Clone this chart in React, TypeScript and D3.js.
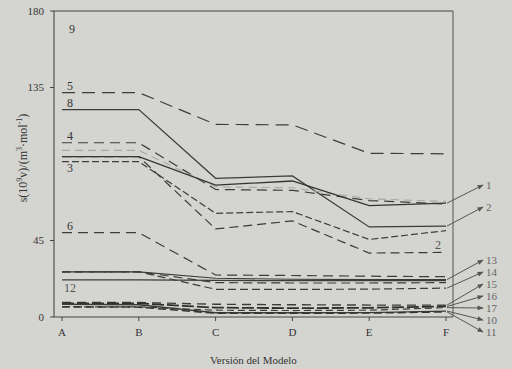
import React from "react";
import * as d3 from "d3";

// Model versions along the horizontal axis
const categories = ["A", "B", "C", "D", "E", "F"];

// s(10^9 v) per model version, one array per compound
const s5 = [132, 132, 113.3, 113, 96.3, 96];
const s8 = [122, 122, 81.6, 83, 53, 53.5];
const s4 = [102.5, 102.5, 75, 74.5, 68.5, 66.5];
const sGrey = [98, 98, 76.5, 76, 69.5, 68];
const s1 = [94.3, 94.3, 77.6, 80, 65.5, 67];
const s2 = [94.3, 94.3, 51.8, 56.5, 37.6, 38];
const s3 = [91.4, 91.4, 61, 62, 45.6, 50.8];
const s6 = [49.6, 49.6, 24.7, 24.4, 24, 23.7];
const s13 = [26.6, 26.6, 22.8, 22.2, 22, 22];
const s14 = [26.6, 26.6, 16.3, 16.2, 16.4, 17];
const s14b = [26.6, 26.6, 20.2, 20, 20, 20.2];
const s12 = [21.8, 21.8, 21.5, 21.4, 21.4, 21.4];
const s15 = [8.5, 8.5, 7.5, 7.2, 7, 7];
const s16 = [8, 8, 5.5, 5.2, 5.4, 6.2];
const s17 = [6, 6, 4, 3.8, 4, 5.5];
const s10 = [7.5, 7.2, 2.5, 2.5, 2.6, 3.5];
const s11 = [6, 5.8, 2.2, 2.2, 2.3, 3];

const yTicks = [0, 45, 135, 180];

// Series with their drawing style
const series = [
  { id: "5", values: s5, dash: "13,7", color: "#3c3c3c", width: 1.2 },
  { id: "8", values: s8, dash: "", color: "#3c3c3c", width: 1.2 },
  { id: "4", values: s4, dash: "10,6", color: "#3c3c3c", width: 1.2 },
  { id: "g", values: sGrey, dash: "8,5", color: "#a8a8a4", width: 1.1 },
  { id: "1", values: s1, dash: "", color: "#333", width: 1.3 },
  { id: "2", values: s2, dash: "9,5", color: "#3a3a3a", width: 1.2 },
  { id: "3", values: s3, dash: "7,3", color: "#3c3c3c", width: 1.2 },
  { id: "6", values: s6, dash: "10,6", color: "#3c3c3c", width: 1.2 },
  { id: "13", values: s13, dash: "", color: "#3c3c3c", width: 1.2 },
  { id: "14", values: s14, dash: "8,4", color: "#3c3c3c", width: 1.2 },
  { id: "14b", values: s14b, dash: "9,5", color: "#3c3c3c", width: 1.2 },
  { id: "12", values: s12, dash: "", color: "#3c3c3c", width: 1.2 },
  { id: "15", values: s15, dash: "9,6", color: "#3c3c3c", width: 1.4 },
  { id: "16", values: s16, dash: "12,3", color: "#2e2e2e", width: 1.8 },
  { id: "17", values: s17, dash: "7,4", color: "#3c3c3c", width: 1.2 },
  { id: "10", values: s10, dash: "", color: "#3c3c3c", width: 1.3 },
  { id: "11", values: s11, dash: "8,4", color: "#333", width: 1.5 },
];

// Labels written next to the start of a line
const startLabels = [
  { text: "5", series: s5 },
  { text: "8", series: s8 },
  { text: "4", series: s4 },
  { text: "6", series: s6 },
];

// Labels pointed at the line ends on the right
const endLabels = [
  { text: "1", series: s1, slot: 0 },
  { text: "2", series: s8, slot: 1 },
  { text: "13", series: s13, slot: 2 },
  { text: "14", series: s14, slot: 3 },
  { text: "15", series: s15, slot: 4 },
  { text: "16", series: s16, slot: 5 },
  { text: "17", series: s17, slot: 6 },
  { text: "10", series: s10, slot: 7 },
  { text: "11", series: s11, slot: 8 },
];
const endSlotY = [185, 207, 260, 272, 284, 296, 308, 320, 332];

export default function App() {
  const W = 512;
  const H = 369;
  const left = 54;
  const right = 453;
  const top = 11;
  const bottom = 317;

  const x = d3.scalePoint<string>().domain(categories).range([62, 446]);
  const y = d3.scaleLinear().domain([0, 180]).range([bottom, top]);

  const line = d3
    .line<number>()
    .x((_, i) => x(categories[i]) as number)
    .y((d) => y(d));

  const font = "'Liberation Serif', 'Times New Roman', serif";
  const textColor = "#353535";
  const xA = x("A") as number;
  const xF = x("F") as number;

  return (
    <svg
      width={W}
      height={H}
      style={{ position: "fixed", left: 0, top: 0, background: "#d4d4d0" }}
      fontFamily={font}
    >
      <rect x={0} y={0} width={W} height={H} fill="#d4d4d0" />
      <defs>
        <marker
          id="arrowHead"
          viewBox="0 0 10 10"
          refX="9"
          refY="5"
          markerWidth="7"
          markerHeight="6"
          orient="auto"
        >
          <path d="M0,1 L10,5 L0,9 Z" fill="#555" />
        </marker>
      </defs>

      {/* frame */}
      <line x1={left} x2={right} y1={top} y2={top} stroke="#444" strokeWidth={1} />
      <line x1={right} x2={right} y1={top} y2={bottom} stroke="#555" strokeWidth={1} />
      <line x1={left} x2={left} y1={top} y2={bottom} stroke="#444" strokeWidth={1.1} />
      <line x1={left} x2={right} y1={bottom} y2={bottom} stroke="#444" strokeWidth={1.1} />

      {/* y axis */}
      {yTicks.map((t) => (
        <g key={t}>
          <line x1={left - 4} x2={left} y1={y(t)} y2={y(t)} stroke="#444" />
          <text
            x={left - 10}
            y={y(t)}
            dy="0.35em"
            textAnchor="end"
            fontSize={11}
            fill={textColor}
          >
            {t}
          </text>
        </g>
      ))}

      {/* x axis */}
      {categories.map((c) => (
        <g key={c}>
          <line
            x1={x(c) as number}
            x2={x(c) as number}
            y1={bottom}
            y2={bottom + 4}
            stroke="#444"
          />
          <text
            x={x(c) as number}
            y={bottom + 19}
            textAnchor="middle"
            fontSize={11}
            fill={textColor}
          >
            {c}
          </text>
        </g>
      ))}

      <text
        x={(left + right) / 2}
        y={364}
        textAnchor="middle"
        fontSize={11}
        fill={textColor}
      >
        Versión del Modelo
      </text>

      <text
        transform={`translate(27, 158) rotate(-90)`}
        textAnchor="middle"
        fontSize={12}
        fill={textColor}
      >
        s(10
        <tspan dy={-5} fontSize={8}>9</tspan>
        <tspan dy={5}>v)/(m</tspan>
        <tspan dy={-5} fontSize={8}>3</tspan>
        <tspan dy={5}>·mol</tspan>
        <tspan dy={-5} fontSize={8}>-1</tspan>
        <tspan dy={5}>)</tspan>
      </text>

      {/* series */}
      {series.map((s) => (
        <path
          key={s.id}
          d={line(s.values) || ""}
          fill="none"
          stroke={s.color}
          strokeWidth={s.width}
          strokeDasharray={s.dash || undefined}
        />
      ))}

      {/* labels at the start of lines */}
      {startLabels.map((l) => (
        <text
          key={l.text}
          x={xA + 8}
          y={y(l.series[0]) - 3}
          textAnchor="middle"
          fontSize={12}
          fill={textColor}
        >
          {l.text}
        </text>
      ))}
      <text x={xA + 8} y={y(s3[0]) + 10} textAnchor="middle" fontSize={12} fill={textColor}>
        3
      </text>
      <text x={xA + 8} y={y(s12[0]) + 12} textAnchor="middle" fontSize={12} fill="#555">
        12
      </text>
      <text x={xA + 10} y={y(167)} textAnchor="middle" fontSize={12} fill={textColor}>
        9
      </text>
      <text x={xF - 8} y={y(s2[5]) - 3} textAnchor="middle" fontSize={12} fill="#555">
        2
      </text>

      {/* arrows to the right-hand labels */}
      {endLabels.map((l) => (
        <g key={l.text}>
          <line
            x1={xF + 1}
            y1={y(l.series[5])}
            x2={483}
            y2={endSlotY[l.slot]}
            stroke="#555"
            strokeWidth={1}
            markerEnd="url(#arrowHead)"
          />
          <text
            x={486}
            y={endSlotY[l.slot]}
            dy="0.35em"
            fontSize={11}
            fill="#666"
          >
            {l.text}
          </text>
        </g>
      ))}
    </svg>
  );
}
